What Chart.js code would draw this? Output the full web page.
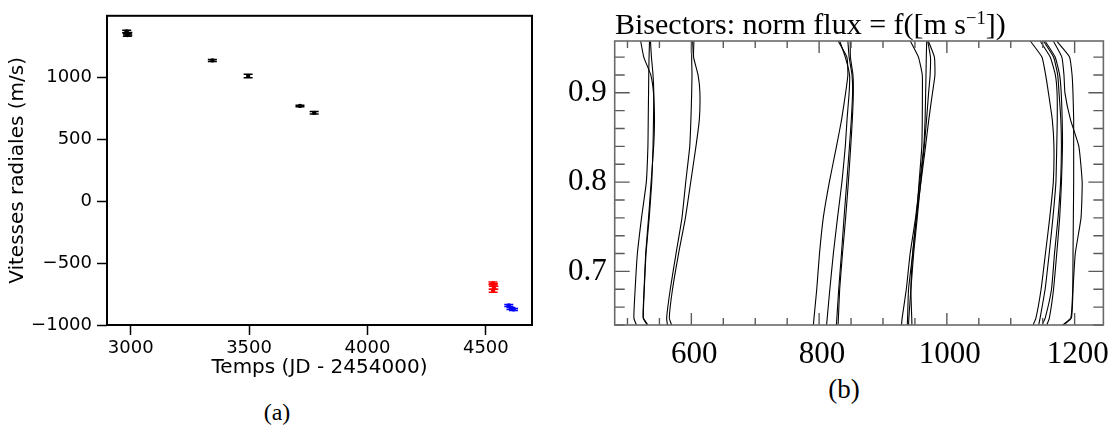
<!DOCTYPE html>
<html>
<head>
<meta charset="utf-8">
<script src="https://cdn.jsdelivr.net/npm/chart.js@4.4.1/dist/chart.umd.min.js"></script>
<style>
  html, body { margin: 0; padding: 0; background: #fff; }
  #page { position: relative; width: 1117px; height: 426px; overflow: hidden; }
  canvas { position: absolute; top: 0; }
  #rvChart { left: 0; }
  #bisChart { left: 560px; }
  .caption {
    position: absolute;
    font-family: "Liberation Serif", "DejaVu Serif", serif;
    color: #000;
    transform: translate(-50%, -50%);
    white-space: nowrap;
    line-height: 1;
  }
  #bisTitle {
    position: absolute;
    left: 615px;
    top: 9px;
    font-family: "Liberation Serif", "DejaVu Serif", serif;
    font-size: 30px;
    line-height: 30px;
    color: #000;
    white-space: nowrap;
  }
  #bisTitle sup { font-size: 0.62em; vertical-align: 0.55em; line-height: 0; }
</style>
</head>
<body>
<div id="page">
  <canvas id="rvChart" width="560" height="390"></canvas>
  <canvas id="bisChart" width="557" height="370"></canvas>
  <div id="bisTitle">Bisectors: norm flux = f([m s<sup>−1</sup>])</div>
  <div class="caption" style="left:277px; top:412px; font-size:24px;">(a)</div>
  <div class="caption" style="left:844px; top:389px; font-size:27px;">(b)</div>
</div>
<script>
// ---- panel (a): radial velocities ----
const blackTimes = [2983, 2988, 2986, 3345, 3496, 3715, 3775];
const blackRV = [1368, 1350, 1340, 1135, 1010, 768, 712];
const blackErr = [10, 10, 10, 8, 14, 6, 10];

const redTimes = [4530, 4532, 4534, 4531];
const redRV = [-664, -678, -700, -724];
const redErr = [10, 10, 12, 12];

const blueTimes = [4597, 4606, 4617];
const blueRV = [-842, -866, -874];
const blueErr = [8, 8, 8];

const rvTimeTicks = [3000, 3500, 4000, 4500];
const rvValueTicks = [-1000, -500, 0, 500, 1000];

// ---- panel (b): bisectors, velocity (m/s) at each normalised flux level ----
const fluxLevels = [0.64, 0.648, 0.68, 0.72, 0.76, 0.80, 0.84, 0.87, 0.90, 0.92, 0.94, 0.958];

const bisectorsA = [
    [514, 510, 512, 515.5, 522, 529.5, 532, 532.5, 533, 533.3, 533.8, 534.5],
    [532, 525, 526.3, 529, 534, 538, 540, 540.7, 541.2, 540, 537.5, 536],
    [531, 524.5, 526, 528.5, 533, 537, 541, 542.3, 540.7, 536.5, 525.5, 520.6],
];
const bisectorsB = [
    [562.5, 561.3, 567, 576, 585.3, 591.2, 597.5, 599.3, 600.5, 601, 600.5, 601.6],
    [569, 565.5, 570.5, 580, 590.7, 599, 607.2, 612.5, 613.4, 610.5, 603.5, 604],
];
const bisectorsC = [
    [791, 792, 796.3, 800.6, 806.5, 816, 827.2, 835.2, 841.5, 845, 843.5, 829.7],
    [811.7, 812.7, 816.8, 822.3, 828.8, 835.7, 841, 843.7, 847, 847.7, 841, 832.2],
    [827, 827.8, 830.7, 835, 839, 843.3, 847.5, 850.4, 852.4, 851.5, 847, 845],
    [829.7, 830.2, 832.2, 836.6, 841.5, 845.8, 849.5, 852, 853.6, 853, 849, 848.7],
];
const bisectorsD = [
    [938, 938.5, 940, 946.5, 952.3, 956.5, 960.8, 961.5, 961.7, 961.5, 955.5, 942.7],
    [940, 940.5, 943.7, 948, 953.6, 959, 964.6, 968.2, 971.4, 973.8, 974.3, 970],
    [945.3, 945, 943.7, 946.5, 952.2, 959.4, 966.6, 971.7, 977.5, 981.3, 980.5, 971],
    [929, 930, 936.5, 942.5, 951, 957.5, 963.8, 965.9, 966.8, 967.3, 967.8, 968.4],
];
const bisectorsE = [
    [1135, 1139.5, 1147.5, 1154.3, 1161, 1166.6, 1167.6, 1165, 1159, 1154.6, 1148.8, 1130.6],
    [1143.7, 1146, 1153.8, 1160.2, 1166, 1170.7, 1172, 1172.8, 1172.5, 1169.8, 1161.8, 1146],
    [1149, 1154, 1163.8, 1168.5, 1174, 1178, 1179.3, 1178.4, 1175.6, 1173.5, 1167, 1151.2],
    [1156.5, 1160.5, 1167, 1172, 1176.6, 1179.4, 1181, 1180.5, 1179, 1176.5, 1169.5, 1153.7],
    [1183, 1195, 1197.5, 1201, 1210, 1211.8, 1206.6, 1193.5, 1184.8, 1183.3, 1180, 1166.6],
    [1181, 1194, 1197, 1197.5, 1198, 1198.5, 1198.5, 1198.5, 1197.4, 1196, 1192, 1171.7],
];

const bisMajorX = [600, 800, 1000, 1200];
const bisMinorX = [500, 550, 650, 700, 750, 850, 900, 950, 1050, 1100, 1150];
const bisMajorY = [0.7, 0.8, 0.9];
const bisMinorY = [0.64, 0.66, 0.68, 0.72, 0.74, 0.76, 0.78, 0.82, 0.84, 0.86, 0.88, 0.92, 0.94];

const SANS = "'DejaVu Sans', sans-serif";
const SERIF = "'Liberation Serif', 'DejaVu Serif', serif";

function points(xs, ys) {
    return xs.map((x, i) => ({ x: x, y: ys[i] }));
}

// error bars with caps, drawn through the scales
const errorBars = {
    id: "errorBars",
    afterDatasetsDraw(chart) {
        const { ctx, scales } = chart;
        chart.data.datasets.forEach((ds) => {
            if (!ds.yErr) return;
            ctx.save();
            ctx.strokeStyle = ds.borderColor;
            ctx.lineWidth = 1.5;
            ds.data.forEach((p, i) => {
                const px = scales.x.getPixelForValue(p.x);
                const top = scales.y.getPixelForValue(p.y + ds.yErr[i]);
                const bot = scales.y.getPixelForValue(p.y - ds.yErr[i]);
                ctx.beginPath();
                ctx.moveTo(px, top); ctx.lineTo(px, bot);
                ctx.moveTo(px - 4.5, top); ctx.lineTo(px + 4.5, top);
                ctx.moveTo(px - 4.5, bot); ctx.lineTo(px + 4.5, bot);
                ctx.stroke();
            });
            ctx.restore();
        });
    },
};

const blackFrame = {
    id: "blackFrame",
    afterDraw(chart) {
        const a = chart.chartArea;
        const ctx = chart.ctx;
        ctx.save();
        ctx.strokeStyle = "#000";
        ctx.lineWidth = 2;
        ctx.strokeRect(a.left, a.top, a.right - a.left, a.bottom - a.top);
        ctx.restore();
    },
};

new Chart(document.getElementById("rvChart"), {
    type: "scatter",
    data: {
        datasets: [
            { data: points(blackTimes, blackRV), yErr: blackErr, borderColor: "#000", backgroundColor: "#000" },
            { data: points(redTimes, redRV), yErr: redErr, borderColor: "#ff0000", backgroundColor: "#ff0000" },
            { data: points(blueTimes, blueRV), yErr: blueErr, borderColor: "#0000ff", backgroundColor: "#0000ff" },
        ],
    },
    options: {
        responsive: false,
        animation: false,
        layout: { padding: { left: 0, top: 9.5, right: 28, bottom: 0 } },
        elements: { point: { radius: 2.2, borderWidth: 0, hoverRadius: 2.2 } },
        plugins: { legend: { display: false }, tooltip: { enabled: false } },
        scales: {
            x: {
                type: "linear",
                min: 2900,
                max: 4695,
                afterBuildTicks: (s) => { s.ticks = rvTimeTicks.map((v) => ({ value: v })); },
                afterFit: (s) => { s.height = 65; },
                grid: { drawOnChartArea: false, drawTicks: true, tickLength: 10, tickWidth: 1.5, tickColor: "#000" },
                border: { display: false },
                ticks: { color: "#000", font: { family: SANS, size: 18 }, padding: 3, maxRotation: 0, autoSkip: false, callback: (v) => String(v) },
                title: { display: true, text: "Temps (JD - 2454000)", color: "#000", font: { family: SANS, size: 20 }, padding: { top: 0, bottom: 10 } },
            },
            y: {
                type: "linear",
                min: -1000,
                max: 1495,
                afterBuildTicks: (s) => { s.ticks = rvValueTicks.map((v) => ({ value: v })); },
                afterFit: (s) => { s.width = 107; },
                grid: { drawOnChartArea: false, drawTicks: true, tickLength: 10, tickWidth: 1.5, tickColor: "#000" },
                border: { display: false },
                ticks: {
                    color: "#000",
                    font: { family: SANS, size: 18 },
                    padding: 5,
                    autoSkip: false,
                    callback: (v) => String(v).replace("-", "\u2212"),
                },
                title: { display: true, text: "Vitesses radiales (m/s)", color: "#000", font: { family: SANS, size: 20 }, padding: { top: 6, bottom: 0 } },
            },
        },
    },
    plugins: [errorBars, blackFrame],
});

// inward ticks on all four sides + grey frame
const innerTicks = {
    id: "innerTicks",
    afterDraw(chart) {
        const { ctx, chartArea: a, scales } = chart;
        ctx.save();
        ctx.strokeStyle = "#5a5a5a";
        ctx.lineWidth = 1.4;
        ctx.beginPath();
        const xTick = (v, len) => {
            const px = scales.x.getPixelForValue(v);
            ctx.moveTo(px, a.top); ctx.lineTo(px, a.top + len);
            ctx.moveTo(px, a.bottom); ctx.lineTo(px, a.bottom - len);
        };
        const yTick = (v, len) => {
            const py = scales.y.getPixelForValue(v);
            ctx.moveTo(a.left, py); ctx.lineTo(a.left + len, py);
            ctx.moveTo(a.right, py); ctx.lineTo(a.right - len, py);
        };
        bisMajorX.forEach((v) => xTick(v, 12));
        bisMinorX.forEach((v) => xTick(v, 7));
        bisMajorY.forEach((v) => yTick(v, 15));
        bisMinorY.forEach((v) => yTick(v, 10));
        ctx.stroke();
        ctx.lineWidth = 1.6;
        ctx.strokeStyle = "#6a6a6a";
        ctx.strokeRect(a.left, a.top, a.right - a.left, a.bottom - a.top);
        ctx.restore();
    },
};

const bisectorGroups = [bisectorsA, bisectorsB, bisectorsC, bisectorsD, bisectorsE];
const bisDatasets = [];
bisectorGroups.forEach((group) => {
    group.forEach((vel) => {
        bisDatasets.push({
            data: points(vel, fluxLevels),
            showLine: true,
            borderColor: "#000",
            borderWidth: 1.1,
            pointRadius: 0,
            tension: 0.15,
        });
    });
});

new Chart(document.getElementById("bisChart"), {
    type: "scatter",
    data: { datasets: bisDatasets },
    options: {
        responsive: false,
        animation: false,
        layout: { padding: { left: 0, top: 41, right: 6.3, bottom: 0 } },
        plugins: { legend: { display: false }, tooltip: { enabled: false } },
        scales: {
            x: {
                type: "linear",
                min: 480,
                max: 1245,
                afterBuildTicks: (s) => { s.ticks = bisMajorX.map((v) => ({ value: v })); },
                afterFit: (s) => { s.height = 45; },
                grid: { display: false, drawTicks: false },
                border: { display: false },
                ticks: { color: "#000", font: { family: SERIF, size: 31 }, padding: 11, labelOffset: 3, maxRotation: 0, autoSkip: false, callback: (v) => String(v) },
            },
            y: {
                type: "linear",
                min: 0.64,
                max: 0.958,
                afterBuildTicks: (s) => { s.ticks = bisMajorY.map((v) => ({ value: v })); },
                afterFit: (s) => { s.width = 54.7; },
                grid: { display: false, drawTicks: false },
                border: { display: false },
                ticks: { color: "#000", font: { family: SERIF, size: 31 }, padding: 8, autoSkip: false, callback: (v) => v.toFixed(1) },
            },
        },
    },
    plugins: [innerTicks],
});
</script>
</body>
</html>
